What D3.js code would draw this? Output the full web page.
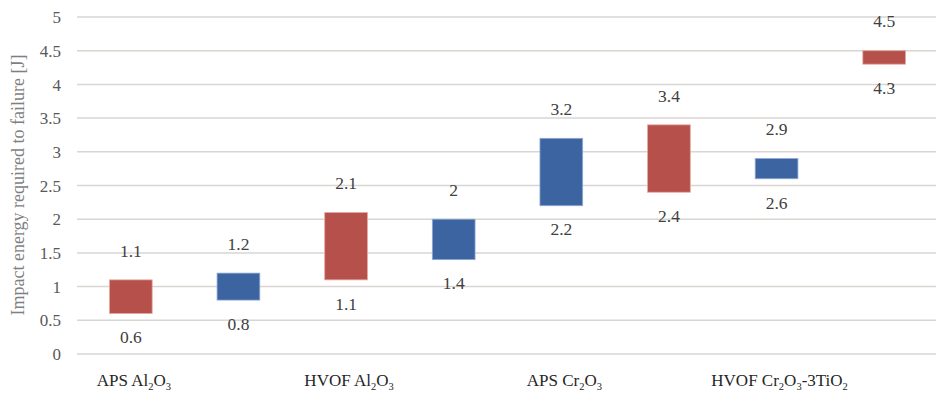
<!DOCTYPE html>
<html><head><meta charset="utf-8">
<script src="https://cdn.jsdelivr.net/npm/d3@7/dist/d3.min.js"></script>
<style>body{margin:0;background:#fff}svg{display:block}svg text{font-family:"Liberation Serif","Times New Roman",serif !important}</style>
</head><body><svg id="c" width="936" height="393"></svg>
<script>
const categories = ["c1","c2","c3","c4","c5","c6","c7","c8"];
const lowValues  = [0.6, 0.8, 1.1, 1.4, 2.2, 2.4, 2.6, 4.3];
const highValues = [1.1, 1.2, 2.1, 2.0, 3.2, 3.4, 2.9, 4.5];
const barKind    = ["red","blue","red","blue","blue","red","blue","red"];
const groupLabels = [
  {idx:0, parts:[["APS Al",""],["2","s"],["O",""],["3","s"]]},
  {idx:2, parts:[["HVOF Al",""],["2","s"],["O",""],["3","s"]]},
  {idx:4, parts:[["APS Cr",""],["2","s"],["O",""],["3","s"]]},
  {idx:6, parts:[["HVOF Cr",""],["2","s"],["O",""],["3","s"],["-3TiO",""],["2","s"]]}
];
const yTicks = [0,0.5,1,1.5,2,2.5,3,3.5,4,4.5,5];
const yTitle = "Impact energy required to failure [J]";

const FONT = '"Liberation Serif","Times New Roman",serif';
const svg = d3.select("#c");
const x = d3.scaleBand().domain(categories).range([77, 938]).padding(0);
const y = d3.scaleLinear().domain([0,5]).range([354,17]);
const barW = x.bandwidth()*0.397;
const colors = {red:"#b5504a", blue:"#3b64a1"};
const strokes = {red:"#e8a8a4", blue:"#8fa9d3"};

// y axis labels
const yAxis = d3.axisLeft(y).tickValues(yTicks).tickSize(0).tickPadding(0)
  .tickFormat(d => String(d));
const gA = svg.append("g").attr("transform","translate(61,0)").call(yAxis)
  .attr("font-family", FONT);
gA.select(".domain").remove();
gA.selectAll("text").attr("x",0).attr("dy","0.33em").attr("font-size",17)
  .attr("font-family", FONT).attr("fill","#595959").attr("text-anchor","end");

// gridlines
svg.append("g").selectAll("line").data(yTicks).join("line")
  .attr("x1",77).attr("x2",936).attr("y1",d=>y(d)).attr("y2",d=>y(d))
  .attr("stroke","#d9d5d0").attr("stroke-width",1.5);

// bars
const cx = i => x(categories[i]) + x.bandwidth()/2;
svg.append("g").selectAll("rect").data(categories).join("rect")
  .attr("x",(d,i)=>cx(i)-barW/2).attr("width",barW)
  .attr("y",(d,i)=>y(highValues[i])).attr("height",(d,i)=>y(lowValues[i])-y(highValues[i]))
  .attr("fill",(d,i)=>colors[barKind[i]])
  .attr("stroke",(d,i)=>strokes[barKind[i]]).attr("stroke-width",0.8);

// data labels
const lab = svg.append("g").attr("font-size",17.5).attr("font-family",FONT)
  .attr("fill","#404040").attr("text-anchor","middle");
lab.selectAll("text.hi").data(categories).join("text").attr("class","hi")
  .attr("x",(d,i)=>cx(i)).attr("y",(d,i)=>y(highValues[i])-29).attr("dy","0.33em")
  .attr("font-family",FONT)
  .text((d,i)=>String(highValues[i]));
lab.selectAll("text.lo").data(categories).join("text").attr("class","lo")
  .attr("x",(d,i)=>cx(i)).attr("y",(d,i)=>y(lowValues[i])+24).attr("dy","0.33em")
  .attr("font-family",FONT)
  .text((d,i)=>String(lowValues[i]));

// category labels
const cl = svg.append("g").attr("font-size",17).attr("font-family",FONT)
  .attr("fill","#262626").attr("text-anchor","middle");
groupLabels.forEach(g => {
  const t = cl.append("text").attr("x", cx(g.idx)+3).attr("y", 386).attr("font-family",FONT);
  g.parts.forEach((p,k) => {
    const ts = t.append("tspan").text(p[0]);
    if (p[1]==="s") ts.attr("font-size",10.5).attr("dy",4);
    else ts.attr("dy", k>0 ? -4 : 0);
  });
});

// y title
svg.append("text").attr("transform","translate(24,185) rotate(-90)")
  .attr("text-anchor","middle").attr("font-size",18).attr("font-family",FONT)
  .attr("fill","#7f7f7f")
  .text(yTitle);
</script></body></html>
